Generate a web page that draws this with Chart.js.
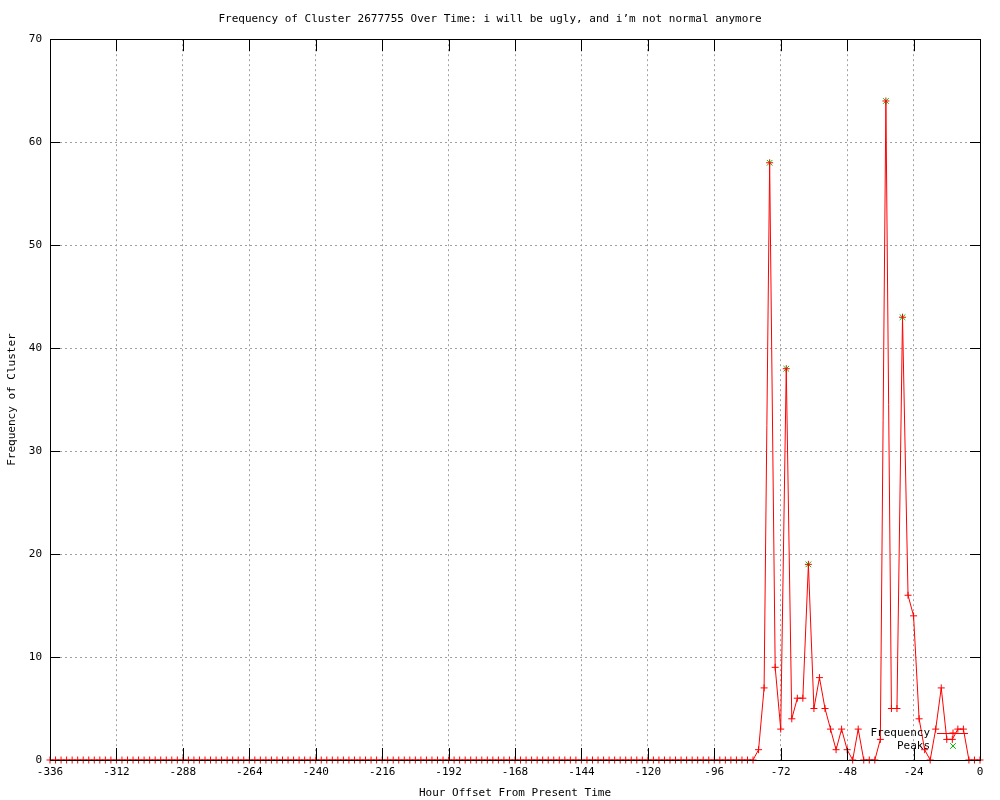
<!DOCTYPE html>
<html>
<head>
<meta charset="utf-8">
<script src="https://cdn.jsdelivr.net/npm/chart.js@4.4.1/dist/chart.umd.min.js"></script>
<style>
  html, body { margin: 0; padding: 0; background: #fff; }
  #wrap { width: 1000px; height: 800px; position: relative; }
</style>
</head>
<body>
<div id="wrap"><canvas id="freqChart"></canvas></div>
<script>
'use strict';

// ----- data (2-hour bins) -----
const hours = [];
for (let h = -336; h <= 0; h += 2) hours.push(h);

const freq = [
  0, 0, 0, 0, 0, 0, 0, 0, 0, 0, 0, 0, 0, 0, 0, 0,
  0, 0, 0, 0, 0, 0, 0, 0, 0, 0, 0, 0, 0, 0, 0, 0,
  0, 0, 0, 0, 0, 0, 0, 0, 0, 0, 0, 0, 0, 0, 0, 0,
  0, 0, 0, 0, 0, 0, 0, 0, 0, 0, 0, 0, 0, 0, 0, 0,
  0, 0, 0, 0, 0, 0, 0, 0, 0, 0, 0, 0, 0, 0, 0, 0,
  0, 0, 0, 0, 0, 0, 0, 0, 0, 0, 0, 0, 0, 0, 0, 0,
  0, 0, 0, 0, 0, 0, 0, 0, 0, 0, 0, 0, 0, 0, 0, 0,
  0, 0, 0, 0, 0, 0, 0, 0, 0, 0, 0, 0, 0, 0, 0, 0,
  // -80 .. 0
  1, 7, 58, 9, 3, 38, 4, 6, 6, 19, 5, 8, 5, 3, 1, 3,
  1, 0, 3, 0, 0, 0, 2, 64, 5, 5, 43, 16, 14, 4, 1, 0,
  3, 7, 2, 2, 3, 3, 0, 0, 0
];

const peakHours = [-76, -70, -62, -34, -28];
const peakValues = [58, 38, 19, 64, 43];

const xMin = -336, xMax = 0, xStep = 24;
const yMin = 0, yMax = 70, yStep = 10;

// ----- fonts -----
Chart.defaults.font.family = "'DejaVu Sans Mono', 'Liberation Mono', monospace";
Chart.defaults.font.size = 11;
Chart.defaults.color = '#000';

// frame + inward ticks, gnuplot style
const framePlugin = {
  id: 'frame',
  afterDatasetsDraw(chart) {
    const { ctx, chartArea: a, scales } = chart;
    ctx.save();
    ctx.strokeStyle = '#000';
    ctx.lineWidth = 1;
    ctx.beginPath();
    scales.x.ticks.forEach(t => {
      const px = Math.round(scales.x.getPixelForValue(t.value)) + 0.5;
      ctx.moveTo(px, a.bottom); ctx.lineTo(px, a.bottom - 12);
      ctx.moveTo(px, a.top); ctx.lineTo(px, a.top + 12);
    });
    scales.y.ticks.forEach(t => {
      const py = Math.round(scales.y.getPixelForValue(t.value)) + 0.5;
      ctx.moveTo(a.left, py); ctx.lineTo(a.left + 10, py);
      ctx.moveTo(a.right, py); ctx.lineTo(a.right - 10, py);
    });
    ctx.stroke();
    ctx.strokeRect(Math.round(a.left) + 0.5, Math.round(a.top) + 0.5,
      Math.round(a.right - a.left), Math.round(a.bottom - a.top));
    ctx.restore();
  }
};

// key in bottom right corner
const keyPlugin = {
  id: 'key',
  afterDatasetsDraw(chart) {
    const { ctx, chartArea: a } = chart;
    const rows = [
      { label: 'Frequency', ds: chart.data.datasets[0], y: a.bottom - 27 },
      { label: 'Peaks', ds: chart.data.datasets[1], y: a.bottom - 14 }
    ];
    ctx.save();
    ctx.font = "11px 'DejaVu Sans Mono', monospace";
    ctx.textAlign = 'right';
    ctx.textBaseline = 'middle';
    rows.forEach(r => {
      ctx.fillStyle = '#000';
      ctx.fillText(r.label, a.right - 50, r.y);
      const cx = a.right - 27;
      ctx.strokeStyle = r.ds.borderColor;
      ctx.lineWidth = 1;
      if (r.ds.showLine !== false) {
        ctx.beginPath();
        ctx.moveTo(a.right - 43, r.y + 0.5);
        ctx.lineTo(a.right - 12, r.y + 0.5);
        ctx.stroke();
      }
      Chart.helpers.drawPoint(ctx, {
        pointStyle: r.ds.pointStyle,
        radius: r.ds.pointRadius,
        borderWidth: 1,
        rotation: 0
      }, cx, r.y);
    });
    ctx.restore();
  }
};

new Chart(document.getElementById('freqChart'), {
  type: 'line',
  data: {
    datasets: [
      {
        label: 'Frequency',
        data: hours.map((h, i) => ({ x: h, y: freq[i] })),
        borderColor: '#ff0000',
        borderWidth: 1,
        pointStyle: 'cross',
        pointRadius: 3.5,
        pointBorderColor: '#ff0000',
        pointBorderWidth: 1,
        tension: 0,
        fill: false,
        clip: false
      },
      {
        label: 'Peaks',
        data: peakHours.map((h, i) => ({ x: h, y: peakValues[i] })),
        showLine: false,
        borderColor: '#00c000',
        pointStyle: 'crossRot',
        pointRadius: 4,
        pointBorderColor: '#00c000',
        pointBorderWidth: 1
      }
    ]
  },
  options: {
    responsive: true,
    maintainAspectRatio: false,
    animation: false,
    layout: { padding: { left: 0, right: 20, top: 0, bottom: 0 } },
    plugins: {
      legend: { display: false },
      tooltip: { enabled: false },
      title: {
        display: true,
        text: 'Frequency of Cluster 2677755 Over Time: i will be ugly, and i\u2019m not normal anymore',
        font: { size: 11, weight: 'normal' },
        color: '#000',
        padding: { top: 13, bottom: 13 }
      }
    },
    scales: {
      x: {
        type: 'linear',
        min: xMin,
        max: xMax,
        ticks: { stepSize: xStep, padding: 6, maxRotation: 0, autoSkip: false },
        grid: {
          color: ctx => (ctx.tick && (ctx.tick.value === xMin || ctx.tick.value === xMax)) ? 'rgba(0,0,0,0)' : '#a0a0a0',
          tickLength: 0,
          drawTicks: false
        },
        border: { display: false, dash: [2, 3] },
        title: { display: true, text: 'Hour Offset From Present Time', padding: { top: 6, bottom: 0 } },
        afterFit: s => { s.height = 40; }
      },
      y: {
        min: yMin,
        max: yMax,
        ticks: { stepSize: yStep, padding: 8 },
        grid: {
          color: ctx => (ctx.tick && (ctx.tick.value === yMin || ctx.tick.value === yMax)) ? 'rgba(0,0,0,0)' : '#a0a0a0',
          tickLength: 0,
          drawTicks: false
        },
        border: { display: false, dash: [2, 3] },
        title: { display: true, text: 'Frequency of Cluster', padding: { top: 6, bottom: 0 } },
        afterFit: s => { s.width = 50; }
      }
    }
  },
  plugins: [framePlugin, keyPlugin]
});
</script>
</body>
</html>
